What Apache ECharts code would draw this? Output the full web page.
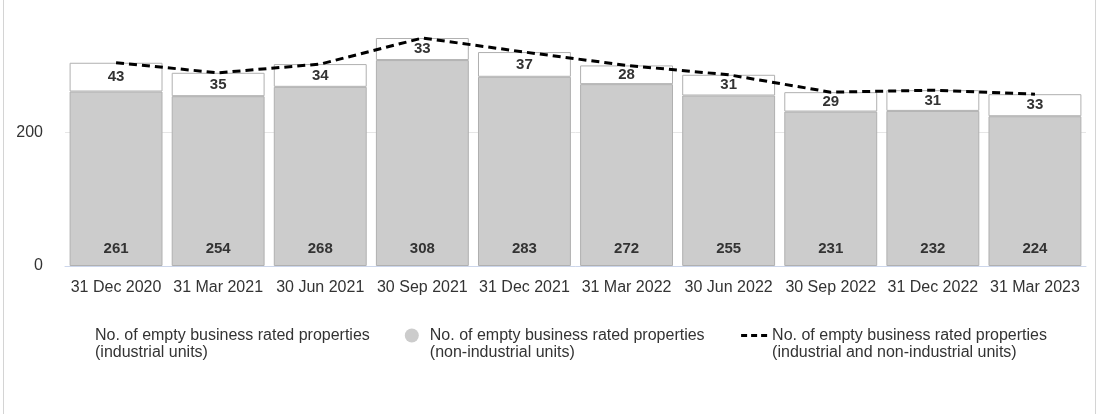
<!DOCTYPE html>
<html>
<head>
<meta charset="utf-8">
<script src="https://cdn.jsdelivr.net/npm/echarts@6/dist/echarts.min.js"></script>
<style>
  html, body { margin: 0; padding: 0; background: #fff; }
  #main { width: 1098px; height: 414px; }
  .edge { position: absolute; top: 0; width: 1px; height: 414px; background: #d4d4d4; }
</style>
</head>
<body>
<div id="main"></div>
<div class="edge" style="left:3px"></div>
<div class="edge" style="left:1095px"></div>
<script>
// 数据
const categories = ['31 Dec 2020', '31 Mar 2021', '30 Jun 2021', '30 Sep 2021', '31 Dec 2021',
  '31 Mar 2022', '30 Jun 2022', '30 Sep 2022', '31 Dec 2022', '31 Mar 2023'];
const nonIndustrial = [261, 254, 268, 308, 283, 272, 255, 231, 232, 224];
const industrial = [43, 35, 34, 33, 37, 28, 31, 29, 31, 33];
const total = nonIndustrial.map((v, i) => v + industrial[i]);

const nameInd = 'No. of empty business rated properties\n(industrial units)';
const nameNon = 'No. of empty business rated properties\n(non-industrial units)';
const nameAll = 'No. of empty business rated properties\n(industrial and non-industrial units)';

const font = 'Liberation Sans, Arial, sans-serif';

let myChart = echarts.init(document.getElementById('main'));
myChart.setOption({
  animation: false,
  textStyle: { fontFamily: font },
  grid: { left: 65, right: 12, top: 32, bottom: 148 },
  legend: {
    left: 70,
    top: 310,
    padding: 0,
    itemGap: 35,
    itemWidth: 26,
    itemHeight: 14,
    // 前面加一个空行，让图标对齐第一行文字
    formatter: name => '\n' + name,
    textStyle: { fontSize: 16, color: '#333', lineHeight: 17 },
    data: [
      { name: nameInd, icon: 'circle', itemStyle: { color: '#fff', borderWidth: 0 } },
      { name: nameNon, icon: 'circle', itemStyle: { color: '#cccccc', borderWidth: 0 } },
      {
        name: nameAll,
        itemStyle: { color: 'rgba(0,0,0,0)', borderWidth: 0 },
        lineStyle: { color: '#000', width: 3, type: [6, 4] }
      }
    ]
  },
  xAxis: {
    type: 'category',
    data: categories,
    axisLine: { lineStyle: { color: '#ccd6eb' } },
    axisTick: { length: 12, lineStyle: { color: '#ccd6eb' } },
    axisLabel: { interval: 0, fontSize: 16, color: '#333', margin: 14 }
  },
  yAxis: {
    type: 'value',
    min: 0,
    max: 350,
    interval: 200,
    axisLabel: { fontSize: 16, color: '#333', margin: 22, showMaxLabel: false },
    splitLine: { showMaxLine: false, lineStyle: { color: '#e6e6e6' } }
  },
  series: [
    {
      name: nameNon,
      type: 'bar',
      stack: 'a',
      barCategoryGap: '9%',
      data: nonIndustrial,
      itemStyle: { color: '#cccccc', borderColor: '#b0b0b0', borderWidth: 1 },
      label: { show: true, position: 'insideBottom', distance: 10, fontSize: 15, fontWeight: 'bold', color: '#333' }
    },
    {
      name: nameInd,
      type: 'bar',
      stack: 'a',
      data: industrial,
      itemStyle: { color: '#ffffff', borderColor: '#b0b0b0', borderWidth: 1 },
      label: { show: true, position: 'inside', fontSize: 15, fontWeight: 'bold', color: '#333' }
    },
    {
      name: nameAll,
      type: 'line',
      data: total,
      symbol: 'none',
      z: 5,
      lineStyle: { color: '#000', width: 3, type: [8, 5] },
      itemStyle: { color: '#000' }
    }
  ]
});
</script>
</body>
</html>
